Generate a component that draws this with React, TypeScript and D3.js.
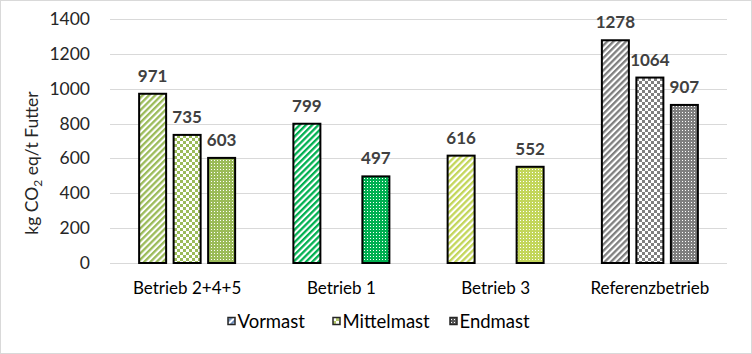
import React from "react";
import * as d3 from "d3";

const categories = ["Betrieb 2+4+5", "Betrieb 1", "Betrieb 3", "Referenzbetrieb"];
const seriesNames = ["Vormast", "Mittelmast", "Endmast"];
const vormast: (number | null)[] = [971, 799, 616, 1278];
const mittelmast: (number | null)[] = [735, null, null, 1064];
const endmast: (number | null)[] = [603, 497, 552, 907];
const yTicks = [0, 200, 400, 600, 800, 1000, 1200, 1400];
const categoryColors = ["#9BBB59", "#00B050", "#C3D65A", "#7F7F7F"];
const legendColors = ["#6F8FBF", "#B5C96A", "#595959"];

const W = 752;
const H = 354;
const FONT = "Lato, 'Open Sans', sans-serif";

function patternDefs(id: string, kind: number, color: string) {
  if (kind === 0) {
    return (
      <pattern key={id} id={id} patternUnits="userSpaceOnUse" width={4.4} height={4.4} patternTransform="rotate(45)">
        <rect width={4.4} height={4.4} fill="#fff" />
        <rect width={2.3} height={4.4} fill={color} />
      </pattern>
    );
  }
  if (kind === 1) {
    return (
      <pattern key={id} id={id} patternUnits="userSpaceOnUse" width={6} height={6}>
        <rect width={6} height={6} fill="#fff" />
        <rect x={0} y={0} width={3} height={3} fill={color} />
        <rect x={3} y={3} width={3} height={3} fill={color} />
      </pattern>
    );
  }
  return (
    <pattern key={id} id={id} patternUnits="userSpaceOnUse" width={3} height={3}>
      <rect width={3} height={3} fill={color} />
      <rect x={1} y={1} width={1} height={1} fill="#fff" />
    </pattern>
  );
}

export default function App() {
  const seriesValues = [vormast, mittelmast, endmast];
  const x0 = d3.scaleBand<string>().domain(categories).range([110, 727]).padding(0);
  const groupW = 103.5;
  const x1 = d3.scaleBand<string>().domain(seriesNames).range([0, groupW]).padding(0);
  const y = d3.scaleLinear().domain([0, 1400]).range([263, 19]);
  const barW = 27;

  const defs: React.ReactNode[] = [];
  categories.forEach((c, ci) => {
    seriesNames.forEach((s, si) => {
      defs.push(patternDefs(`p-${ci}-${si}`, si, categoryColors[ci]));
    });
  });
  seriesNames.forEach((s, si) => defs.push(patternDefs(`lg-${si}`, si, legendColors[si])));

  const legendX = [228, 333, 450];

  return (
    <svg width={W} height={H} style={{ position: "absolute", left: 0, top: 0 }} fontFamily={FONT}>
      <defs>{defs}</defs>
      <rect x={0} y={0} width={W} height={H} fill="#fff" />
      <rect x={0.5} y={0.5} width={W - 1} height={H - 1} fill="none" stroke="#D9D9D9" />
      {yTicks.map((t) => (
        <g key={t}>
          <line x1={110} x2={727} y1={Math.round(y(t)) + 0.5} y2={Math.round(y(t)) + 0.5} stroke="#D9D9D9" strokeWidth={1} />
          <text x={90} y={y(t) + 6} textAnchor="end" fontSize={17.5} fill="#262626">{t}</text>
        </g>
      ))}
      <text transform={`translate(38,163) rotate(-90)`} textAnchor="middle" fontSize={17.5} fill="#262626">
        kg CO<tspan dy={4} fontSize={12}>2</tspan><tspan dy={-4}> eq/t Futter</tspan>
      </text>
      {categories.map((c, ci) => {
        const gx = (x0(c) as number) + (x0.bandwidth() - groupW) / 2;
        return (
          <g key={c}>
            {seriesNames.map((s, si) => {
              const v = seriesValues[si][ci];
              if (v == null) return null;
              const cx = gx + (x1(s) as number) + x1.bandwidth() / 2;
              const top = y(v);
              return (
                <g key={s}>
                  <rect x={cx - barW / 2} y={top} width={barW} height={y(0) - top} fill={`url(#p-${ci}-${si})`} stroke="#000" strokeWidth={2} />
                  <text x={cx} y={top - 12} textAnchor="middle" fontSize={17} fontWeight="bold" fill="#404040">{v}</text>
                </g>
              );
            })}
            <text x={(x0(c) as number) + x0.bandwidth() / 2} y={294} textAnchor="middle" fontSize={17} fill="#000">{c}</text>
          </g>
        );
      })}
      {seriesNames.map((s, si) => (
        <g key={s}>
          <rect x={legendX[si]} y={317.5} width={7} height={7} fill={`url(#lg-${si})`} stroke="#262626" strokeWidth={1.5} />
          <text x={legendX[si] + 9.5} y={328} fontSize={18.5} fill="#000">{s}</text>
        </g>
      ))}
    </svg>
  );
}
